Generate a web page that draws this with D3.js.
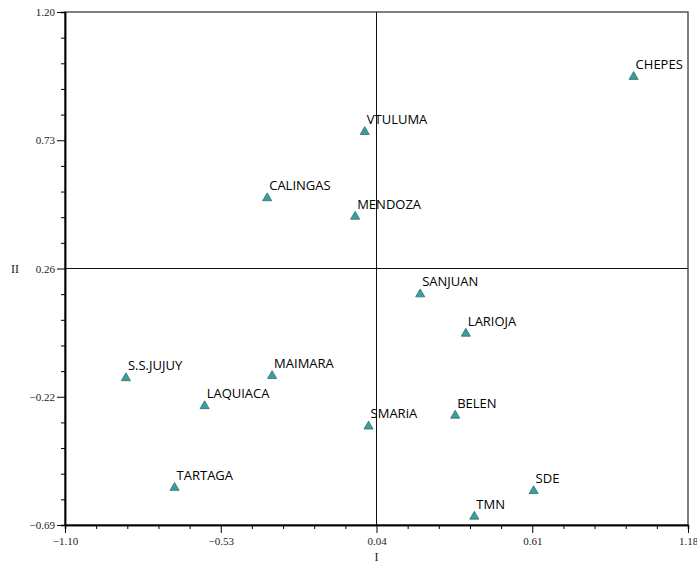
<!DOCTYPE html>
<html>
<head>
<meta charset="utf-8">
<script src="https://cdn.jsdelivr.net/npm/d3@7"></script>
<style>
  body { margin: 0; background: #fff; }
</style>
</head>
<body>
<svg width="697" height="565"></svg>
<script>
var names = ["CHEPES", "VTULUMA", "CALINGAS", "MENDOZA", "SANJUAN", "LARIOJA",
  "S.S.JUJUY", "MAIMARA", "LAQUIACA", "SMARiA", "BELEN", "TARTAGA", "SDE", "TMN"];
var dim1 = [0.981, -0.003, -0.360, -0.038, 0.200, 0.367,
  -0.877, -0.342, -0.589, 0.011, 0.328, -0.699, 0.615, 0.398];
var dim2 = [0.965, 0.762, 0.518, 0.450, 0.164, 0.019,
  -0.145, -0.137, -0.248, -0.323, -0.283, -0.549, -0.561, -0.655];
var xTicks = [-1.10, -0.53, 0.04, 0.61, 1.18];
var yTicks = [-0.69, -0.2175, 0.255, 0.7275, 1.20];

var svg = d3.select("svg");
var pL = 65, pR = 688, pT = 12, pB = 525;

var scX = d3.scaleLinear().domain([-1.10, 1.18]).range([pL, pR]);
var scY = d3.scaleLinear().domain([-0.69, 1.20]).range([pB, pT]);

// minor ticks: 5 per major interval
var minMkr = function (ticks) {
  var out = [];
  for (var i = 0; i < ticks.length - 1; i++) {
    var st = (ticks[i + 1] - ticks[i]) / 5;
    for (var j = 1; j < 5; j++) out.push(ticks[i] + j * st);
  }
  return out;
};

var serif = "'Liberation Serif', 'Times New Roman', serif";

// frame
svg.append("rect")
  .attr("x", pL).attr("y", pT)
  .attr("width", pR - pL).attr("height", pB - pT)
  .attr("fill", "none").attr("stroke", "#555").attr("stroke-width", 1.5);

// crosshair at mid ticks
svg.append("line")
  .attr("x1", scX(xTicks[2])).attr("x2", scX(xTicks[2]))
  .attr("y1", pT).attr("y2", pB)
  .attr("stroke", "#111").attr("stroke-width", 1);
svg.append("line")
  .attr("x1", pL).attr("x2", pR)
  .attr("y1", scY(yTicks[2])).attr("y2", scY(yTicks[2]))
  .attr("stroke", "#111").attr("stroke-width", 1);

var axStyle = function (g) {
  g.select(".domain").attr("stroke", "#000").attr("stroke-width", 1.5);
  g.selectAll(".tick line").attr("stroke", "#000").attr("stroke-width", 1);
  g.selectAll("text").attr("font-family", serif).attr("font-size", 11).attr("fill", "#222");
};

// minor ticks first
svg.append("g").attr("transform", "translate(0," + pB + ")")
  .call(d3.axisBottom(scX).tickValues(minMkr(xTicks)).tickSize(4).tickFormat(""))
  .call(axStyle);
svg.append("g").attr("transform", "translate(" + pL + ",0)")
  .call(d3.axisLeft(scY).tickValues(minMkr(yTicks)).tickSize(4).tickFormat(""))
  .call(axStyle);

// major ticks
svg.append("g").attr("transform", "translate(0," + pB + ")")
  .call(d3.axisBottom(scX).tickValues(xTicks).tickSize(8).tickPadding(4)
    .tickSizeOuter(0).tickFormat(d3.format(".2f")))
  .call(axStyle);
svg.append("g").attr("transform", "translate(" + pL + ",0)")
  .call(d3.axisLeft(scY).tickValues(yTicks).tickSize(8).tickPadding(2)
    .tickSizeOuter(0).tickFormat(d3.format(".2f")))
  .call(axStyle);

// axis titles
svg.append("text").attr("x", scX(xTicks[2])).attr("y", 561)
  .attr("text-anchor", "middle").attr("font-family", serif).attr("font-size", 12)
  .attr("fill", "#222").text("I");
svg.append("text").attr("x", 15).attr("y", scY(yTicks[2]) + 4)
  .attr("text-anchor", "middle").attr("font-family", serif).attr("font-size", 12)
  .attr("fill", "#222").text("II");

// points
var pts = names.map(function (n, i) { return { n: n, x: dim1[i], y: dim2[i] }; });
var tri = d3.symbol().type(d3.symbolTriangle).size(36);

var g = svg.append("g");
g.selectAll("path").data(pts).enter().append("path")
  .attr("d", tri)
  .attr("transform", d => "translate(" + scX(d.x) + "," + (scY(d.y) + 1) + ")")
  .attr("fill", "#3f9c9c").attr("stroke", "#2b7373").attr("stroke-width", 0.8);

g.selectAll("text").data(pts).enter().append("text")
  .attr("x", d => scX(d.x) + 2)
  .attr("y", d => scY(d.y) - 7)
  .attr("font-family", "'Open Sans', sans-serif").attr("font-size", 13)
  .attr("fill", "#000")
  .text(d => d.n);
</script>
</body>
</html>
